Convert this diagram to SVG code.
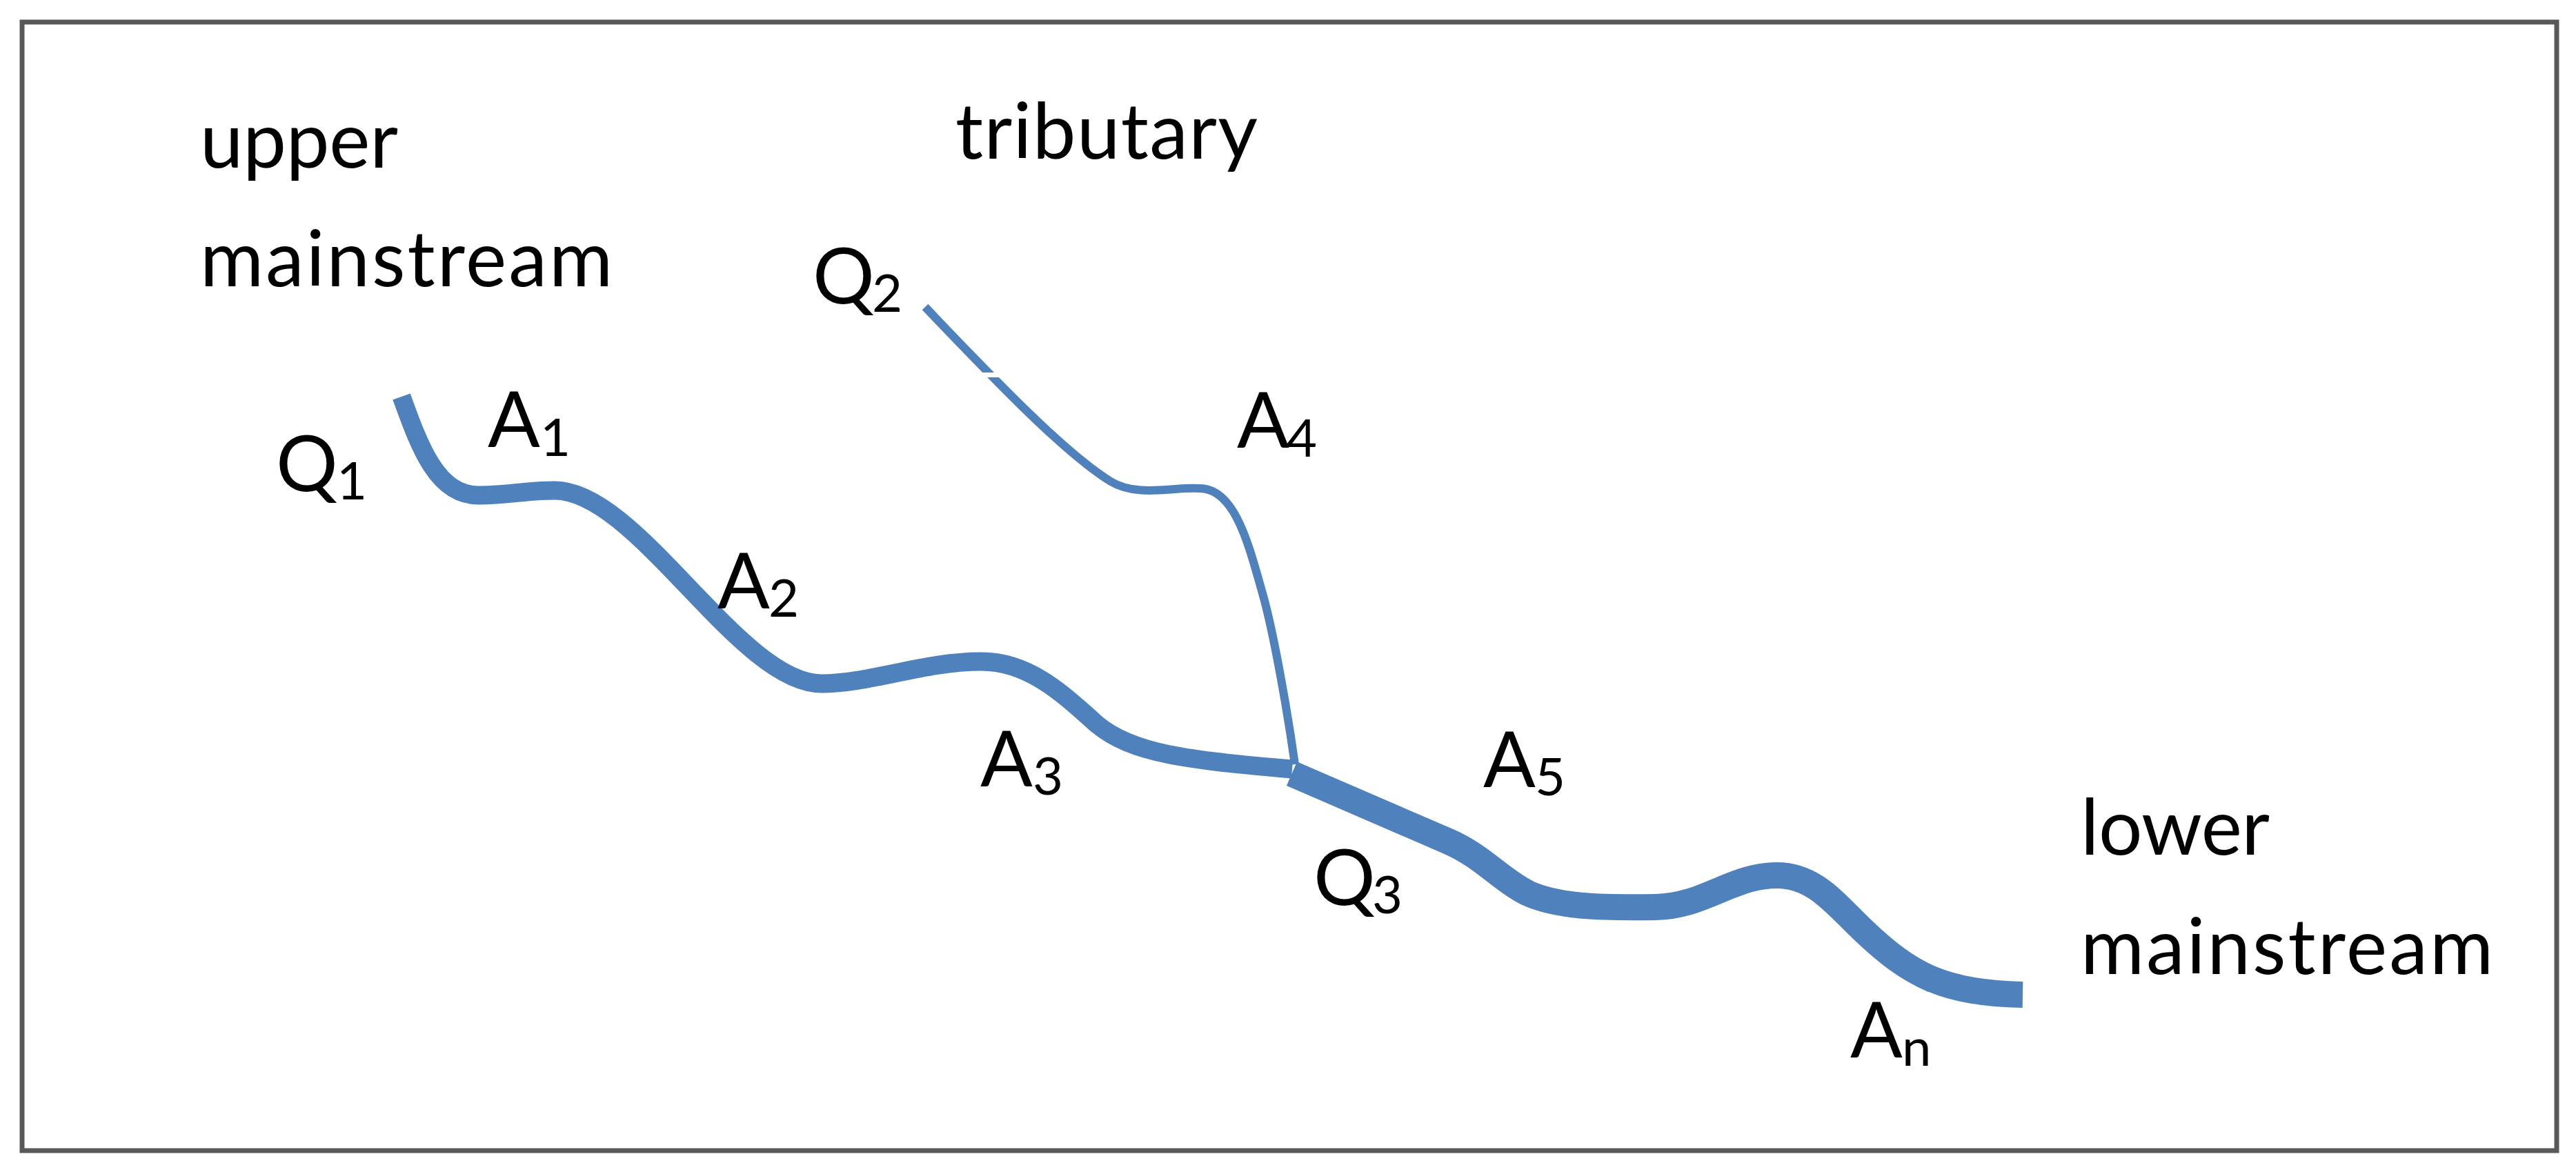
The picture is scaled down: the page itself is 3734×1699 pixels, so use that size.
<svg xmlns="http://www.w3.org/2000/svg" width="3734" height="1699" viewBox="0 0 3734 1699">
<style>
.lbl{font-family:Lato,"Liberation Sans",sans-serif;font-size:112px;fill:#000}
.sub{font-size:76px}
.river{fill:none;stroke:#4F81BD;stroke-linejoin:round;stroke-linecap:butt}
</style>
<rect x="0" y="0" width="3734" height="1699" fill="#fff"/>
<rect id="frame" x="32" y="32" width="3674" height="1636" fill="none" stroke="#595959" stroke-width="7"/>
<g id="connectors">
  <path id="upper-mainstream-river" class="river" stroke-width="27" d="M582,575 C609,650 634,718 694,718 C740,718 760,711 804,711 C924,711 1071,991 1191,991 C1260,991 1340,959 1421,959 C1490,958 1540,1005 1590,1050 C1640,1092 1720,1102 1873,1115"/>
  <path id="lower-mainstream-river" class="river" stroke-width="38" d="M1872.5,1121.6 L2100,1220 C2150,1242 2175,1275 2215,1295 C2260,1315 2320,1316 2400,1315 C2470,1314 2510,1269 2576,1269 C2630,1269 2660,1310 2700,1348 C2770,1415 2820,1440 2932,1442"/>
  <path id="tributary-river" class="river" stroke-width="12" d="M1341,445 C1430,538 1540,655 1610,698 C1648,721 1700,706 1737,708 C1790,706 1810,790 1830,860 C1846,916 1866,1030 1877,1108"/>
  <rect x="1414" y="540" width="40" height="7" fill="#fff"/>
</g>
<g id="upper-mainstream"><text class="lbl" x="290" y="243" textLength="287">upper</text><text class="lbl" x="290" y="415" textLength="598">mainstream</text></g>
<g id="tributary"><text class="lbl" x="1385" y="230" textLength="438">tributary</text></g>
<g id="lower-mainstream"><text class="lbl" x="3016" y="1239" textLength="274">lower</text><text class="lbl" x="3016" y="1412" textLength="598">mainstream</text></g>
<g id="Q1"><text class="lbl" x="400" y="712">Q<tspan class="sub" x="488" y="724">1</tspan></text></g>
<g id="Q2"><text class="lbl" x="1178" y="440">Q<tspan class="sub" x="1264" y="452">2</tspan></text></g>
<g id="Q3"><text class="lbl" x="1904" y="1312">Q<tspan class="sub" x="1989" y="1324">3</tspan></text></g>
<g id="A1"><text class="lbl" x="707" y="648">A<tspan class="sub" x="783" y="661">1</tspan></text></g>
<g id="A2"><text class="lbl" x="1040" y="882">A<tspan class="sub" x="1114" y="894">2</tspan></text></g>
<g id="A3"><text class="lbl" x="1421" y="1140">A<tspan class="sub" x="1497" y="1152">3</tspan></text></g>
<g id="A4"><text class="lbl" x="1793" y="649">A<tspan class="sub" x="1865" y="662">4</tspan></text></g>
<g id="A5"><text class="lbl" x="2150" y="1141">A<tspan class="sub" x="2225" y="1153">5</tspan></text></g>
<g id="An"><text class="lbl" x="2682" y="1533">A<tspan class="sub" x="2757" y="1545">n</tspan></text></g>
</svg>
